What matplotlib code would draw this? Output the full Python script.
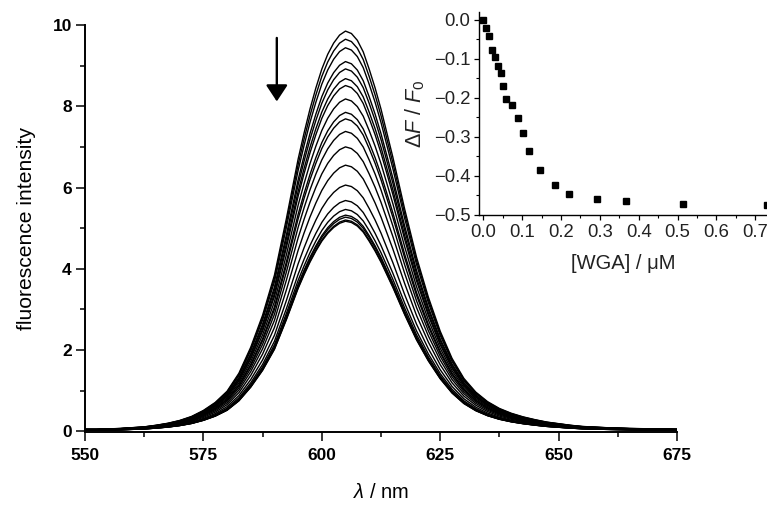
import numpy as np
import matplotlib
matplotlib.use('Agg')
import matplotlib.pyplot as plt

plt.rcParams['font.family'] = ['Liberation Sans', 'DejaVu Sans']
plt.rcParams['mathtext.fontset'] = 'custom'
plt.rcParams['mathtext.rm'] = 'Liberation Sans'
plt.rcParams['mathtext.it'] = 'Liberation Sans:italic'

# emission spectrum: wavelength (nm) and normalised band shape
wl = [550, 552.5, 555, 557.5, 560, 562.5, 565, 567.5, 570, 572.5,
      575, 577.5, 580, 582.5, 585, 587.5, 590, 592.5, 595, 596.25,
      597.5, 598.75, 600, 601.25, 602.5, 603.75, 605, 606.25, 607.5, 608.75,
      610, 611.25, 612.5, 613.75, 615, 617.5, 620, 622.5, 625, 627.5,
      630, 632.5, 635, 637.5, 640, 642.5, 645, 647.5, 650, 652.5,
      655, 660, 665, 670, 675]
shape = [0.005, 0.005, 0.006, 0.007, 0.009, 0.011, 0.015, 0.020, 0.027, 0.037,
         0.052, 0.072, 0.100, 0.145, 0.210, 0.290, 0.390, 0.530, 0.680, 0.745,
         0.805, 0.858, 0.905, 0.942, 0.970, 0.990, 1.000, 0.994, 0.977, 0.948,
         0.905, 0.858, 0.805, 0.745, 0.685, 0.555, 0.435, 0.335, 0.250, 0.182,
         0.132, 0.098, 0.074, 0.057, 0.045, 0.036, 0.029, 0.023, 0.019, 0.015,
         0.012, 0.009, 0.007, 0.006, 0.005]
# peak intensity of each titration step
peaks = [9.85, 9.65, 9.44, 9.10, 8.92, 8.68, 8.51, 8.18, 7.85, 7.69,
         7.38, 7.00, 6.55, 6.06, 5.68, 5.46, 5.32, 5.27, 5.20, 5.17]

# inset: quenching vs lectin concentration
wga = [0.0, 0.008, 0.015, 0.022, 0.029, 0.037, 0.045, 0.051, 0.058, 0.074,
       0.088, 0.103, 0.117, 0.147, 0.184, 0.220, 0.293, 0.367, 0.513, 0.729]
dF = [0.0, -0.020, -0.042, -0.077, -0.095, -0.119, -0.136, -0.170, -0.203, -0.219,
      -0.251, -0.289, -0.335, -0.385, -0.423, -0.446, -0.460, -0.464, -0.472, -0.475]

shape = np.array(shape)

fig = plt.figure(figsize=(7.67, 5.05), dpi=100)
ax = fig.add_axes([0.1108, 0.1436, 0.7719, 0.8069])
for p in peaks:
    ax.plot(wl, p * shape, color='k', lw=1.0)

ax.set_xlim(550, 675)
ax.set_ylim(-0.03, 10)
ax.set_xticks([550, 575, 600, 625, 650, 675])
ax.set_xticks(np.arange(562.5, 675, 25), minor=True)
ax.set_yticks([0, 2, 4, 6, 8, 10])
ax.set_yticks([1, 3, 5, 7, 9], minor=True)
for s in ['top', 'right']:
    ax.spines[s].set_visible(False)
for s in ['left', 'bottom']:
    ax.spines[s].set_linewidth(1.4)
ax.tick_params(which='major', length=6.5, width=1.1, labelsize=12.5, pad=3)
ax.tick_params(axis='x', which='major', pad=5)
ax.tick_params(which='minor', length=3.6, width=1.1)
for lab in ax.get_xticklabels() + ax.get_yticklabels():
    lab.set_fontweight('bold')
ax.set_xlabel(r'$\lambda$ / nm', fontsize=14.5, labelpad=14)
ax.set_ylabel('fluorescence intensity', fontsize=15.2, labelpad=12)

ax.annotate('', xy=(590.5, 8.05), xytext=(590.5, 9.75),
            arrowprops=dict(arrowstyle='-|>,head_width=0.33,head_length=0.5',
                            lw=1.7, color='k', mutation_scale=20))

# inset
ins = fig.add_axes([0.6249, 0.5743, 0.3751, 0.402])
ins.plot(wga, dF, 's', color='k', ms=3.8, clip_on=False)
ins.set_xlim(-0.0103, 0.730)
ins.set_ylim(-0.5, 0.0205)
ins.set_xticks([0.0, 0.1, 0.2, 0.3, 0.4, 0.5, 0.6, 0.7])
ins.set_xticks([0.05, 0.15, 0.25, 0.35, 0.45, 0.55, 0.65], minor=True)
ins.set_yticks([-0.5, -0.4, -0.3, -0.2, -0.1, 0.0])
ins.set_yticks([-0.45, -0.35, -0.25, -0.15, -0.05], minor=True)
ins.set_yticklabels(['−0.5', '−0.4', '−0.3', '−0.2', '−0.1', '0.0'])
ins.xaxis.set_major_formatter(plt.FormatStrFormatter('%.1f'))
ins.patch.set_alpha(0)
for s in ['top', 'right']:
    ins.spines[s].set_visible(False)
for s in ['left', 'bottom']:
    ins.spines[s].set_linewidth(1.0)
ins.tick_params(which='major', length=3.5, width=0.9, labelsize=13.3, pad=3, labelcolor='#222222')
ins.tick_params(which='minor', length=2, width=0.8)
ins.set_xlabel('[WGA] / μM', fontsize=14.5, labelpad=9, color='#222222')
ins.set_ylabel(r'$\Delta F$ / $F_0$', fontsize=15.5, labelpad=5, color='#222222')

fig.savefig('out.png', dpi=100)
